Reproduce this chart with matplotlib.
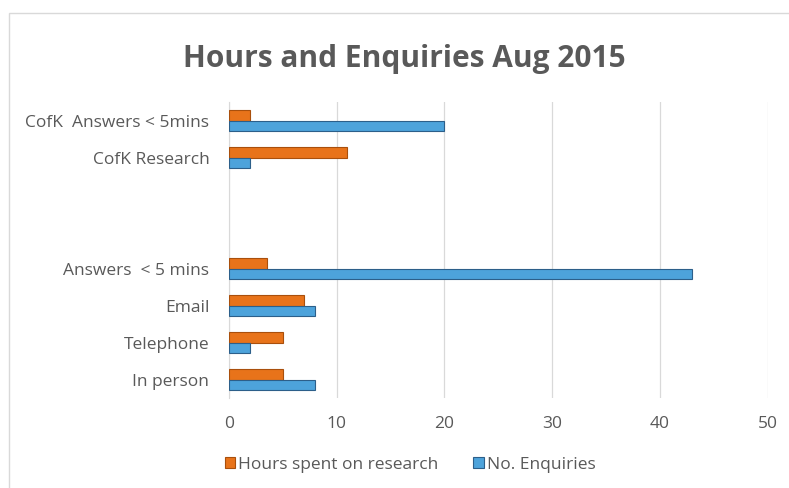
import matplotlib.pyplot as plt
import numpy as np

categories = ['In person', 'Telephone', 'Email', 'Answers  < 5 mins', '', '', 'CofK Research', 'CofK  Answers < 5mins']
hours = [5, 5, 7, 3.5, 0, 0, 11, 2]
enquiries = [8, 2, 8, 43, 0, 0, 2, 20]
ticks = [0, 10, 20, 30, 40, 50]

plt.rcParams['font.family'] = ['Open Sans', 'DejaVu Sans']
grey = '#595959'

fig = plt.figure(figsize=(7.89, 4.88), dpi=100)
ax = fig.add_axes([0.290, 0.184, 0.683, 0.607])

y = np.arange(len(categories))
h = 0.28
# no outline on the empty categories
lw_h = [0.8 if v else 0 for v in hours]
lw_e = [0.8 if v else 0 for v in enquiries]
ax.barh(y + h / 2, hours, height=h, color='#E8731A', edgecolor='#A94F0C', linewidth=lw_h,
        label='Hours spent on research', zorder=3)
ax.barh(y - h / 2, enquiries, height=h, color='#4DA3DB', edgecolor='#2C5F8A', linewidth=lw_e,
        label='No. Enquiries', zorder=3)

ax.set_xlim(0, 50)
ax.set_ylim(-0.5, len(categories) - 0.5)
ax.set_xticks(ticks)
ax.set_yticks(y)
ax.set_yticklabels(categories)
ax.tick_params(axis='both', length=0, colors=grey, labelsize=12.5)
ax.tick_params(axis='x', pad=13)
ax.tick_params(axis='y', pad=14)
ax.xaxis.grid(True, color='#D9D9D9', linewidth=0.9, zorder=0)
for s in ['top', 'right', 'bottom']:
    ax.spines[s].set_visible(False)
ax.spines['left'].set_color('#D9D9D9')

fig.text(0.513, 0.880, 'Hours and Enquiries Aug 2015', ha='center', va='center',
         fontsize=21.5, fontweight='bold', color=grey)

fig.legend(loc='center', bbox_to_anchor=(0.52, 0.047), ncol=2, frameon=False,
           fontsize=12.5, labelcolor=grey, handlelength=0.6, handleheight=0.6,
           handletextpad=0.2, columnspacing=2.0)

border = plt.Rectangle((0.011, -0.1), 1.2, 1.073, transform=fig.transFigure,
                       fill=False, edgecolor='#D9D9D9', linewidth=1)
fig.patches.append(border)

fig.savefig('out.png', dpi=100)
